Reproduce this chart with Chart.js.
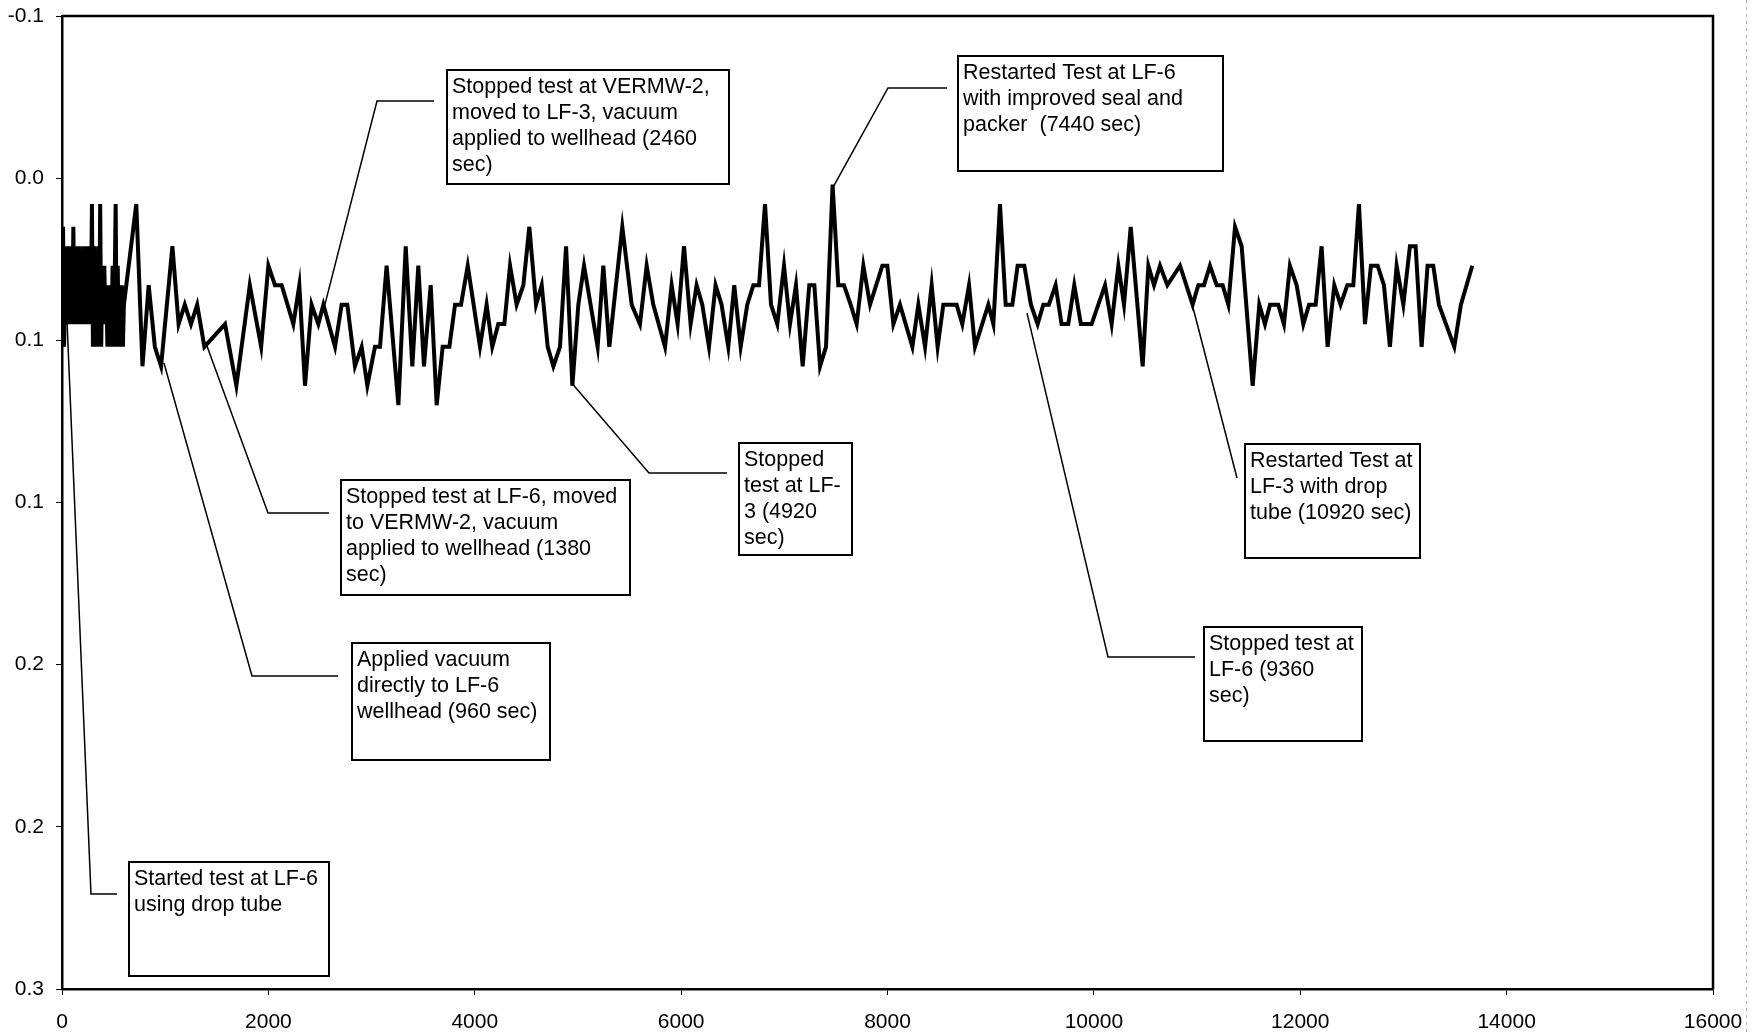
<!DOCTYPE html>
<html>
<head>
<meta charset="utf-8">
<title>Vacuum test record</title>
<script src="https://cdn.jsdelivr.net/npm/chart.js@4.4.0/dist/chart.umd.min.js"></script>
<style>
  html, body { margin: 0; padding: 0; background: #fff; }
  #wrap { position: relative; width: 1763px; height: 1035px; }
</style>
</head>
<body>
<div id="wrap"><canvas id="chart" width="1763" height="1035"></canvas></div>
<script>
// Elapsed time (sec).
const times = [
  0, 10, 20, 30, 40, 50, 60, 70, 80, 90, 100, 110, 120, 130, 140, 150, 160, 170, 180, 190,
  200, 210, 220, 230, 240, 250, 260, 270, 280, 290, 300, 310, 320, 330, 340, 350, 360, 370, 380, 390,
  400, 410, 420, 430, 440, 450, 460, 470, 480, 490, 500, 510, 520, 530, 540, 550, 560, 570, 580, 590, 600,
  720, 780, 840, 900, 960, 1070, 1130, 1190, 1250, 1310, 1380, 1580, 1690, 1820, 1930,
  2000, 2064, 2129, 2242, 2300, 2355, 2419, 2484, 2533, 2646, 2710, 2765, 2839, 2904, 2959, 3033, 3082, 3146, 3260, 3331,
  3395, 3453, 3508, 3573, 3631, 3689, 3754, 3809, 3867, 3932,
  4051, 4115, 4170, 4228, 4287, 4342, 4406, 4471, 4529, 4594, 4649, 4707, 4762, 4826, 4885, 4946, 5004, 5059, 5191, 5246,
  5304, 5430, 5521, 5601, 5666, 5730, 5844, 5908, 5966,
  6028, 6092, 6150, 6205, 6270, 6334, 6392, 6457, 6515, 6577, 6641, 6700, 6755, 6813, 6871, 6932, 6997, 7055, 7113, 7178,
  7242, 7291, 7346, 7404, 7468, 7523, 7578, 7643, 7701, 7766, 7831,
  7950, 7998, 8057, 8121, 8241, 8299, 8364, 8428, 8486, 8541, 8670, 8725, 8790, 8848, 8977, 9026, 9090, 9145, 9210, 9261,
  9326, 9390, 9455, 9510, 9564, 9629, 9687, 9752, 9810, 9874,
  9978, 10108, 10172, 10237, 10292, 10357, 10473, 10528, 10583, 10641, 10712, 10835, 10957, 11012, 11067, 11125, 11190, 11248, 11303, 11368,
  11432, 11539, 11603, 11658, 11707, 11787, 11842,
  11900, 11965, 12030, 12085, 12149, 12207, 12265, 12330, 12391, 12456, 12514, 12569, 12627, 12685, 12750, 12811, 12869, 12934, 12999, 13063,
  13118, 13176, 13234, 13289, 13344, 13493, 13557, 13667
];

// Reading at each time (axis is plotted reversed).
const readings = [
  0.052, 0.015, 0.052, 0.033, 0.039, 0.021, 0.045, 0.021, 0.045, 0.027,
  0.045, 0.015, 0.045, 0.021, 0.045, 0.021, 0.045, 0.021, 0.045, 0.027,
  0.045, 0.021, 0.045, 0.021, 0.045, 0.021, 0.045, 0.027, 0.045, 0.008,
  0.052, 0.021, 0.052, 0.027, 0.052, 0.021, 0.052, 0.008, 0.052, 0.027,
  0.045, 0.027, 0.045, 0.033, 0.052, 0.033, 0.052, 0.033, 0.052, 0.027,
  0.052, 0.033, 0.008, 0.052, 0.027, 0.052, 0.033, 0.052, 0.033, 0.052, 0.039,
  0.008, 0.058, 0.033, 0.052, 0.058, 0.021, 0.045, 0.039, 0.045, 0.039, 0.052, 0.045, 0.064, 0.033, 0.052,
  0.027, 0.033, 0.033, 0.045, 0.033, 0.064, 0.039, 0.045, 0.039, 0.052, 0.039, 0.039, 0.058, 0.052, 0.064, 0.052, 0.052, 0.027, 0.070, 0.021,
  0.058, 0.027, 0.058, 0.033, 0.070, 0.052, 0.052, 0.039, 0.039, 0.027,
  0.052, 0.039, 0.052, 0.045, 0.045, 0.027, 0.039, 0.033, 0.015, 0.039, 0.033, 0.052, 0.058, 0.052, 0.021, 0.064, 0.039, 0.027, 0.052, 0.027,
  0.052, 0.015, 0.039, 0.045, 0.027, 0.039, 0.052, 0.033, 0.045,
  0.021, 0.045, 0.033, 0.039, 0.052, 0.033, 0.039, 0.052, 0.033, 0.052, 0.039, 0.033, 0.033, 0.008, 0.039, 0.045, 0.027, 0.045, 0.033, 0.058,
  0.033, 0.033, 0.058, 0.052, 0.002, 0.033, 0.033, 0.039, 0.045, 0.027, 0.039,
  0.027, 0.027, 0.045, 0.039, 0.052, 0.039, 0.052, 0.033, 0.052, 0.039, 0.039, 0.045, 0.033, 0.052, 0.039, 0.045, 0.008, 0.039, 0.039, 0.027,
  0.027, 0.039, 0.045, 0.039, 0.039, 0.033, 0.045, 0.045, 0.033, 0.045,
  0.045, 0.033, 0.045, 0.027, 0.039, 0.015, 0.058, 0.027, 0.033, 0.027, 0.033, 0.027, 0.039, 0.033, 0.033, 0.027, 0.033, 0.033, 0.039, 0.015,
  0.021, 0.064, 0.039, 0.045, 0.039, 0.039, 0.045,
  0.027, 0.033, 0.045, 0.039, 0.039, 0.021, 0.052, 0.033, 0.039, 0.033, 0.033, 0.008, 0.045, 0.027, 0.027, 0.033, 0.052, 0.027, 0.039, 0.021,
  0.021, 0.052, 0.027, 0.027, 0.039, 0.052, 0.039, 0.027
];

// Axis ticks and the labels exactly as printed on the original.
const xTickValues = [0, 2000, 4000, 6000, 8000, 10000, 12000, 14000, 16000];
const xTickLabels = ["0", "2000", "4000", "6000", "8000", "10000", "12000", "14000", "16000"];
const yTickValues = [-0.05, 0, 0.05, 0.1, 0.15, 0.2, 0.25];
const yTickLabels = ["-0.1", "0.0", "0.1", "0.1", "0.2", "0.2", "0.3"];

// Callout notes: text, box (px), leader elbow (px) and the point on the trace it marks (sec, reading).
const notes = [
  { lines: ["Stopped test at VERMW-2,", "moved to LF-3, vacuum", "applied to wellhead (2460", "sec)"],
    box: [447, 70, 282, 114], elbow: [[434, 101], [377, 101]], tip: [2529, 0.0413] },
  { lines: ["Restarted Test at LF-6", "with improved seal and", "packer  (7440 sec)"],
    box: [958, 56, 265, 115], elbow: [[947, 88], [888, 88]], tip: [7462, 0.0034] },
  { lines: ["Stopped test at LF-6, moved", "to VERMW-2, vacuum", "applied to wellhead (1380", "sec)"],
    box: [341, 480, 289, 115], elbow: [[329, 513], [268, 513]], tip: [1395, 0.0509] },
  { lines: ["Stopped", "test at LF-", "3 (4920", "sec)"],
    box: [739, 443, 113, 112], elbow: [[727, 473], [649, 473]], tip: [4933, 0.0629] },
  { lines: ["Applied vacuum", "directly to LF-6", "wellhead (960 sec)"],
    box: [352, 643, 198, 117], elbow: [[338, 676], [252, 676]], tip: [988, 0.0570] },
  { lines: ["Started test at LF-6", "using drop tube"],
    box: [129, 862, 200, 114], elbow: [[117, 894], [91, 894]], tip: [40, 0.0376] },
  { lines: ["Stopped test at", "LF-6 (9360", "sec)"],
    box: [1204, 627, 158, 114], elbow: [[1195, 657], [1108, 657]], tip: [9352, 0.0416] },
  { lines: ["Restarted Test at", "LF-3 with drop", "tube (10920 sec)"],
    box: [1245, 444, 175, 114], elbow: [[1237, 478]], tip: [10960, 0.0398] }
];

const FONT = '"Liberation Sans", Arial, sans-serif';

// Draws the frame and the callout boxes on top of the chart.
const calloutPlugin = {
  id: "callouts",
  afterDraw(chart) {
    const ctx = chart.ctx;
    const a = chart.chartArea;
    const xs = chart.scales.x;
    const ys = chart.scales.y;
    ctx.save();

    // plot frame (top and right sides)
    ctx.strokeStyle = "#000";
    ctx.lineWidth = 2.5;
    ctx.beginPath();
    ctx.moveTo(a.left, a.top);
    ctx.lineTo(a.right, a.top);
    ctx.lineTo(a.right, a.bottom);
    ctx.stroke();

    // faint scan edge on the right
    ctx.strokeStyle = "#b5b5b5";
    ctx.lineWidth = 1;
    ctx.setLineDash([3, 4]);
    ctx.beginPath();
    ctx.moveTo(1746.5, 0);
    ctx.lineTo(1746.5, 1035);
    ctx.stroke();
    ctx.setLineDash([]);

    notes.forEach((n) => {
      // leader line
      ctx.strokeStyle = "#000";
      ctx.lineWidth = 1.5;
      ctx.beginPath();
      ctx.moveTo(n.elbow[0][0], n.elbow[0][1]);
      n.elbow.slice(1).forEach((p) => ctx.lineTo(p[0], p[1]));
      ctx.lineTo(xs.getPixelForValue(n.tip[0]), ys.getPixelForValue(n.tip[1]));
      ctx.stroke();

      // box
      const [bx, by, bw, bh] = n.box;
      ctx.fillStyle = "#fff";
      ctx.fillRect(bx, by, bw, bh);
      ctx.lineWidth = 2;
      ctx.strokeRect(bx, by, bw, bh);

      // text
      ctx.fillStyle = "#000";
      ctx.font = "21.5px " + FONT;
      ctx.textAlign = "left";
      ctx.textBaseline = "alphabetic";
      n.lines.forEach((s, i) => ctx.fillText(s, bx + 5, by + 23 + i * 26));
    });
    ctx.restore();
  }
};

document.addEventListener("DOMContentLoaded", function () {
  const points = times.map((t, i) => ({ x: t, y: readings[i] }));

  new Chart(document.getElementById("chart"), {
    type: "line",
    data: {
      datasets: [{
        data: points,
        borderColor: "#000",
        borderWidth: 4,
        pointRadius: 0,
        tension: 0,
        fill: false
      }]
    },
    options: {
      responsive: false,
      devicePixelRatio: 1,
      animation: false,
      layout: { padding: { left: 0, top: 16, right: 50, bottom: 0 } },
      plugins: { legend: { display: false }, tooltip: { enabled: false } },
      scales: {
        x: {
          type: "linear",
          min: 0,
          max: 16000,
          afterBuildTicks: (s) => { s.ticks = xTickValues.map((v) => ({ value: v })); },
          afterFit: (s) => { s.height = 46; s.paddingLeft = 0; s.paddingRight = 0; },
          ticks: {
            color: "#000",
            font: { family: FONT, size: 21 },
            padding: 15,
            maxRotation: 0,
            callback: (v) => xTickLabels[xTickValues.indexOf(v)]
          },
          grid: { drawOnChartArea: false, color: "#000", tickLength: 6, lineWidth: 1 },
          border: { display: true, color: "#000", width: 2.5 }
        },
        y: {
          type: "linear",
          min: -0.05,
          max: 0.25,
          reverse: true,
          afterBuildTicks: (s) => { s.ticks = yTickValues.map((v) => ({ value: v })); },
          afterFit: (s) => { s.width = 62; s.paddingTop = 0; s.paddingBottom = 0; },
          ticks: {
            color: "#000",
            font: { family: FONT, size: 21 },
            padding: 12,
            callback: (v) => {
              const i = yTickValues.findIndex((t) => Math.abs(t - v) < 1e-9);
              return yTickLabels[i];
            }
          },
          grid: { drawOnChartArea: false, color: "#000", tickLength: 6, lineWidth: 1 },
          border: { display: true, color: "#000", width: 2.5 }
        }
      }
    },
    plugins: [calloutPlugin]
  });
});
</script>
</body>
</html>
